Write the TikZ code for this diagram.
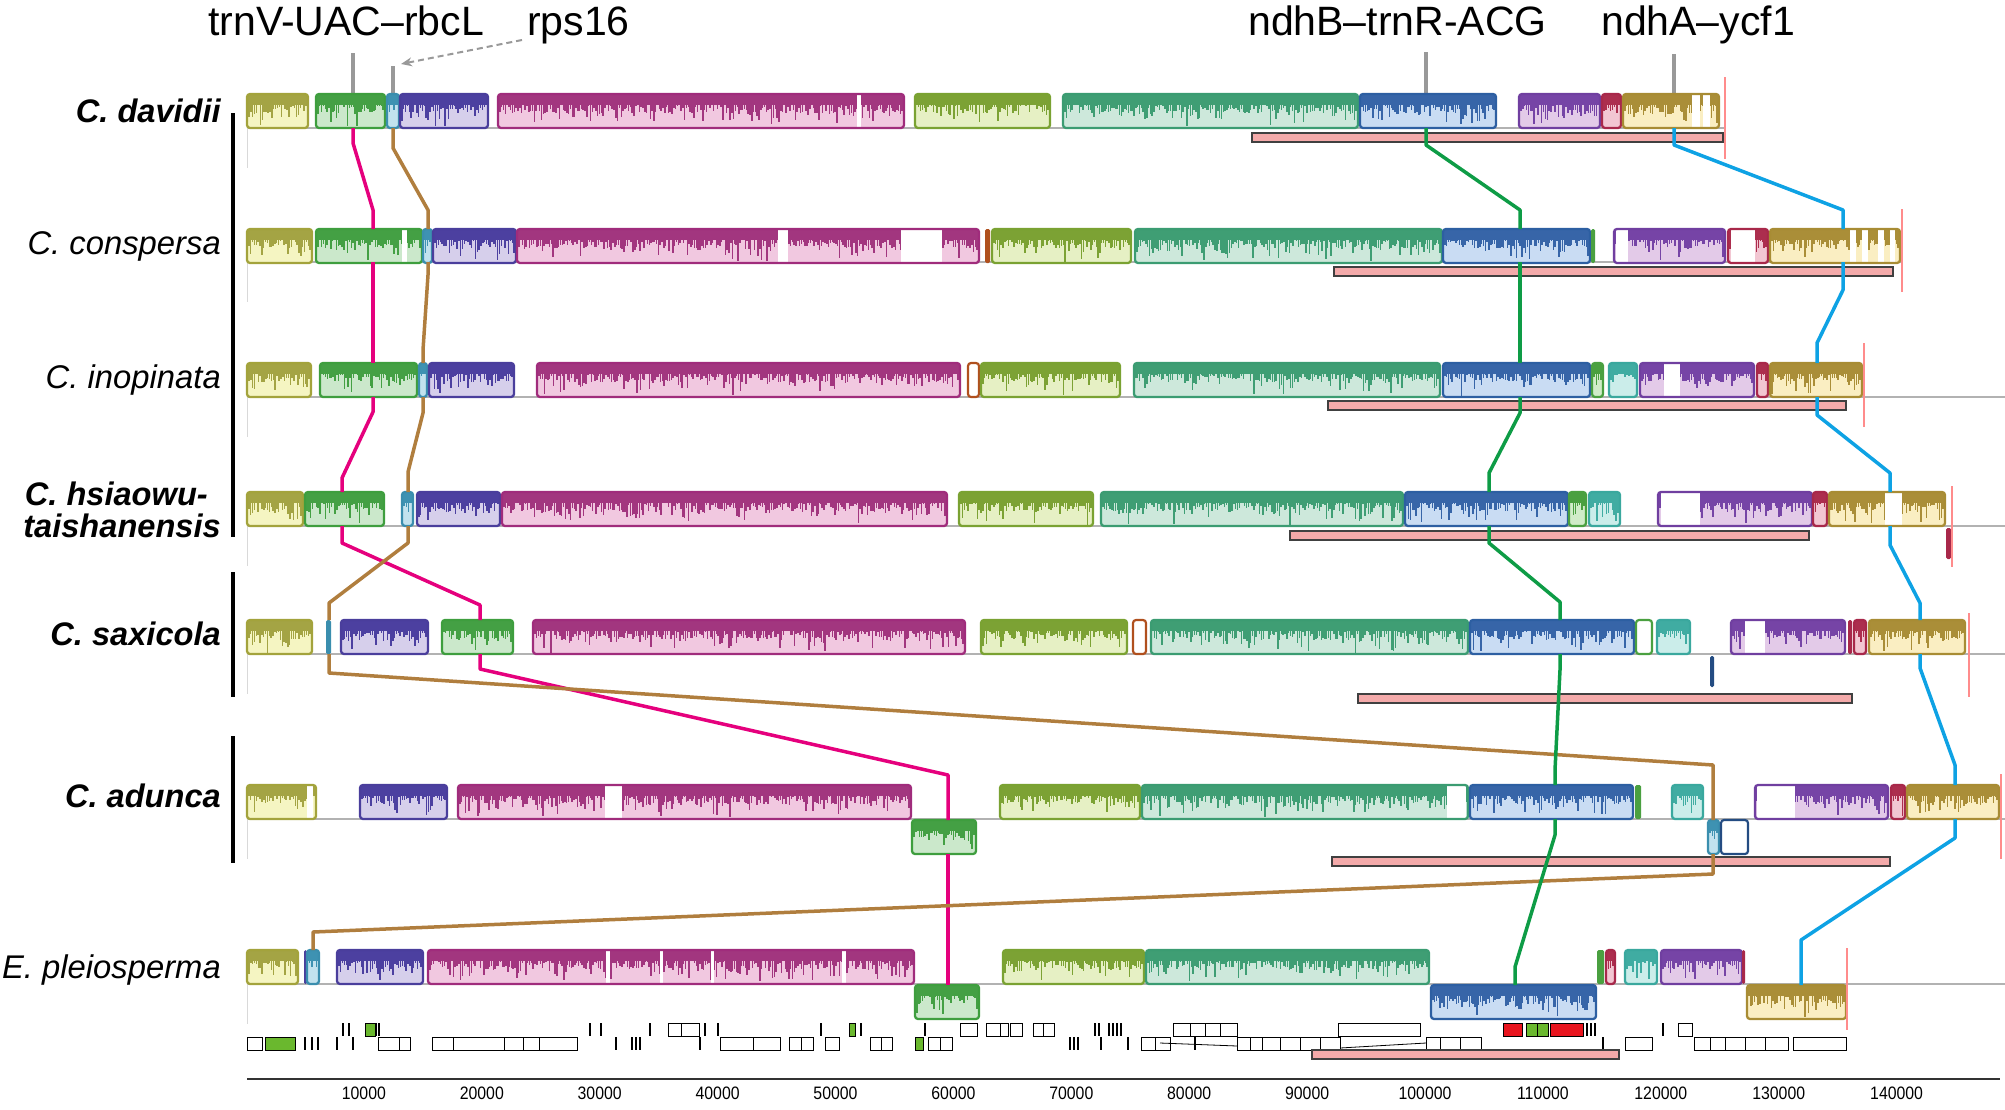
\documentclass[tikz,border=0pt]{standalone}
\usepackage{fontspec}
\setmainfont{Liberation Sans}
\usetikzlibrary{arrows.meta,calc}
\definecolor{yelB}{HTML}{A3A33C}\definecolor{yelD}{HTML}{A4A444}\definecolor{yelL}{HTML}{F5F5C2}
\definecolor{grnB}{HTML}{3E9E3E}\definecolor{grnD}{HTML}{44A044}\definecolor{grnL}{HTML}{CBE8CB}
\definecolor{teaB}{HTML}{3A8EAE}\definecolor{teaD}{HTML}{3E92B2}\definecolor{teaL}{HTML}{C2E2EE}
\definecolor{indB}{HTML}{4A3E9C}\definecolor{indD}{HTML}{4C40A0}\definecolor{indL}{HTML}{D6CFEB}
\definecolor{magB}{HTML}{A02C7C}\definecolor{magD}{HTML}{A2367F}\definecolor{magL}{HTML}{F1C8E0}
\definecolor{oliB}{HTML}{7AA232}\definecolor{oliD}{HTML}{7CA234}\definecolor{oliL}{HTML}{E6F0C4}
\definecolor{seaB}{HTML}{3B9C72}\definecolor{seaD}{HTML}{3F9E74}\definecolor{seaL}{HTML}{CDE8DB}
\definecolor{bluB}{HTML}{2D5FA2}\definecolor{bluD}{HTML}{3765A8}\definecolor{bluL}{HTML}{C9DCF3}
\definecolor{purB}{HTML}{703FA0}\definecolor{purD}{HTML}{7644A6}\definecolor{purL}{HTML}{E3CAE8}
\definecolor{criB}{HTML}{A8284A}\definecolor{criD}{HTML}{AC2E4E}\definecolor{criL}{HTML}{F2C6D2}
\definecolor{golB}{HTML}{A88C34}\definecolor{golD}{HTML}{AA8E38}\definecolor{golL}{HTML}{FAEEC2}
\definecolor{aquB}{HTML}{3AA89E}\definecolor{aquD}{HTML}{40ACA2}\definecolor{aquL}{HTML}{CBEDEA}
\definecolor{sgrB}{HTML}{4AA040}\definecolor{sgrD}{HTML}{4AA040}\definecolor{sgrL}{HTML}{D0ECC8}
\definecolor{oraB}{HTML}{B0501E}
\definecolor{pinkc}{HTML}{E5007D}\definecolor{brownc}{HTML}{B07E3E}
\definecolor{greenc}{HTML}{0E9C46}\definecolor{bluec}{HTML}{0EA2E4}
\definecolor{salmon}{HTML}{F4AAAA}\definecolor{annG}{HTML}{6AB82E}\definecolor{annR}{HTML}{E8141E}
\definecolor{tickgray}{HTML}{999999}
% LCB block: x1 x2 ytop colour gaps
\newcommand\lcb[5]{%
 \pgfmathtruncatemacro\ns{max(2,(#2-#1)/1.8)}%
 \begin{scope}
  \clip[rounded corners=3pt] (#1,#3) rectangle (#2,#3+34);
  \fill[#4L] (#1,#3) rectangle (#2,#3+34);
  \fill[#4D] (#1,#3) rectangle (#2,#3+11);
  \begin{scope}[shift={(0,#3)}]
   \draw[#4D,line width=1.5pt] plot[ycomb,domain=#1:#2,samples=\ns] (\x,{10+9*rnd+15*rnd^5});
  \end{scope}
  \foreach \ga/\gb in {#5} {\fill[white] (\ga,#3) rectangle (\gb,#3+34);}
 \end{scope}
 \draw[#4B,line width=2.3pt,rounded corners=3pt] (#1,#3) rectangle (#2,#3+34);
}
\newcommand\thinb[4]{\fill[#4B,rounded corners=1.5pt] (#1,#3) rectangle (#2,#3+34);}
\newcommand\hollow[4]{\draw[#4B,line width=2.2pt,rounded corners=3pt,fill=white] (#1,#3) rectangle (#2,#3+34);}
\newcommand\salm[3]{\draw[black!75,line width=1.3pt,fill=salmon] (#1,#3) rectangle (#2,#3+9);}
\newcommand\conn[5]{\draw[#1,line width=3.5pt,line join=round] (#2) -- ++(0,#4) -- ($(#3)-(0,#5)$) -- (#3);}
\begin{document}
\begin{tikzpicture}[x=1pt,y=-1pt,
  spname/.style={anchor=base east,inner sep=0pt,font=\fontsize{32.8}{37}\selectfont\itshape},
  spbold/.style={spname,font=\fontsize{32.6}{37}\selectfont\bfseries\itshape},
  toplab/.style={anchor=base west,inner sep=0pt,font=\fontsize{41}{48}\selectfont},
  gtick/.style={tickgray,line width=4.5pt},
  baseln/.style={black!30,line width=1.2pt},
  redln/.style={red!45,line width=1.3pt},
  axlab/.style={anchor=base,inner sep=0pt,font=\fontsize{18}{20}\selectfont},
  ann/.style={black,line width=0.8pt}]
\useasboundingbox (0,0) rectangle (2005,1109);
\pgfmathsetseed{4711}
% ---------- top labels
\node[toplab] (ltrnV) at (208,35) {trnV-UAC–rbcL};
\node[toplab] (lrps) at (527,35) {rps16};
\node[toplab] (lndhB) at (1248,35) {ndhB–trnR-ACG};
\node[toplab] (lndhA) at (1601,35) {ndhA–ycf1};
\draw[gtick] (353,53) -- (353,93);
\draw[gtick] (393,66) -- (393,93);
\draw[gtick] (1426,52) -- (1426,93);
\draw[gtick] (1674,54) -- (1674,93);
\coordinate (arrS) at (522,40);
\coordinate (arrE) at (401,64);
\draw[tickgray,dashed,dash pattern=on 6pt off 4pt,line width=2pt,-{Stealth[length=11pt,width=9pt]}] (arrS) -- (arrE);
% ---------- species labels and group bars
\node[spbold] (sp1) at (221,122) {C. davidii};
\node[spname] (sp2) at (221,254) {C. conspersa};
\node[spname] (sp3) at (221,388) {C. inopinata};
\node[spbold] (sp4a) at (208,505) {C. hsiaowu-};
\node[spbold] (sp4b) at (221,537) {taishanensis};
\node[spbold] (sp5) at (221,645) {C. saxicola};
\node[spbold] (sp6) at (221,807) {C. adunca};
\node[spname] (sp7) at (221,978) {E. pleiosperma};
\draw[black,line width=3.5pt] (233,113) -- (233,537);
\draw[black,line width=3.5pt] (233,572) -- (233,697);
\draw[black,line width=3.5pt] (233,736) -- (233,863);
% ---------- baselines and panel edges
\draw[baseln] (247,128) -- (1725,128);
\draw[baseln] (247,262) -- (1902,262);
\draw[baseln] (247,397) -- (2005,397);
\draw[baseln] (247,526) -- (2005,526);
\draw[baseln] (247,654) -- (2005,654);
\draw[baseln] (247,819) -- (2005,819);
\draw[baseln] (247,984) -- (2005,984);
\foreach \yy in {128,262,397,526,654,819,984} {\draw[black!15,line width=1pt] (247,\yy) -- (247,\yy+40);}
% ---------- row 1: C. davidii
\lcb{247}{308}{94}{yel}{0/0}
\lcb{316}{385}{94}{grn}{0/0}
\lcb{387}{399}{94}{tea}{0/0}
\lcb{400}{488}{94}{ind}{0/0}
\lcb{498}{904}{94}{mag}{857/861}
\lcb{915}{1050}{94}{oli}{0/0}
\lcb{1063}{1358}{94}{sea}{0/0}
\lcb{1360}{1496}{94}{blu}{0/0}
\lcb{1519}{1600}{94}{pur}{0/0}
\lcb{1602}{1621}{94}{cri}{0/0}
\lcb{1623}{1719}{94}{gol}{1692/1700,1703/1710}
\salm{1252}{1723}{133}
\draw[redln] (1725,77) -- (1725,159);
% ---------- row 2: C. conspersa
\lcb{247}{312}{229}{yel}{0/0}
\lcb{316}{422}{229}{grn}{402/407}
\lcb{423}{432}{229}{tea}{0/0}
\lcb{433}{516}{229}{ind}{0/0}
\lcb{517}{979}{229}{mag}{778/788,901/942}
\fill[oraB,rounded corners=1.5pt] (985,229) rectangle (990,263);
\lcb{992}{1131}{229}{oli}{0/0}
\lcb{1135}{1442}{229}{sea}{0/0}
\lcb{1443}{1590}{229}{blu}{0/0}
\thinb{1591}{1595}{229}{sgr}
\lcb{1614}{1725}{229}{pur}{1616/1628}
\lcb{1728}{1768}{229}{cri}{1731/1755}
\lcb{1770}{1900}{229}{gol}{1850/1856,1862/1868,1878/1884,1890/1895}
\salm{1334}{1893}{267}
\draw[redln] (1902,209) -- (1902,292);
% ---------- row 3: C. inopinata
\lcb{247}{311}{363}{yel}{0/0}
\lcb{320}{417}{363}{grn}{0/0}
\lcb{419}{427}{363}{tea}{0/0}
\lcb{429}{514}{363}{ind}{0/0}
\lcb{537}{960}{363}{mag}{0/0}
\draw[oraB,line width=2.2pt,rounded corners=3pt,fill=white] (968,363) rectangle (979,397);
\lcb{981}{1120}{363}{oli}{0/0}
\lcb{1134}{1440}{363}{sea}{0/0}
\lcb{1443}{1590}{363}{blu}{0/0}
\lcb{1592}{1603}{363}{sgr}{0/0}
\lcb{1609}{1637}{363}{aqu}{0/0}
\lcb{1640}{1754}{363}{pur}{1664/1680}
\lcb{1757}{1768}{363}{cri}{0/0}
\lcb{1770}{1862}{363}{gol}{0/0}
\salm{1328}{1846}{401}
\draw[redln] (1864,343) -- (1864,427);
% ---------- row 4: C. hsiaowu-taishanensis
\lcb{247}{303}{492}{yel}{0/0}
\lcb{305}{384}{492}{grn}{0/0}
\lcb{402}{413}{492}{tea}{0/0}
\lcb{417}{500}{492}{ind}{0/0}
\lcb{502}{947}{492}{mag}{0/0}
\lcb{959}{1093}{492}{oli}{0/0}
\lcb{1101}{1403}{492}{sea}{0/0}
\lcb{1405}{1568}{492}{blu}{0/0}
\lcb{1569}{1586}{492}{sgr}{0/0}
\lcb{1589}{1620}{492}{aqu}{0/0}
\lcb{1658}{1812}{492}{pur}{1661/1700}
\lcb{1813}{1827}{492}{cri}{0/0}
\lcb{1829}{1945}{492}{gol}{1885/1902}
\fill[criB,rounded corners=1.5pt] (1946,528) rectangle (1951,559);
\salm{1290}{1809}{531}
\draw[redln] (1952,486) -- (1952,567);
% ---------- row 5: C. saxicola
\lcb{247}{312}{620}{yel}{0/0}
\thinb{326}{331}{620}{tea}
\lcb{341}{428}{620}{ind}{0/0}
\lcb{442}{513}{620}{grn}{0/0}
\lcb{533}{965}{620}{mag}{0/0}
\lcb{981}{1127}{620}{oli}{0/0}
\draw[oraB,line width=2.2pt,rounded corners=3pt,fill=white] (1133,620) rectangle (1146,654);
\lcb{1151}{1468}{620}{sea}{0/0}
\lcb{1470}{1634}{620}{blu}{0/0}
\hollow{1636}{1652}{620}{sgr}
\lcb{1657}{1690}{620}{aqu}{0/0}
\lcb{1731}{1845}{620}{pur}{1745/1765}
\thinb{1848}{1852}{620}{cri}
\lcb{1854}{1866}{620}{cri}{0/0}
\lcb{1869}{1965}{620}{gol}{0/0}
\fill[bluB!80!black,rounded corners=1.5pt] (1710,656) rectangle (1714,687);
\salm{1358}{1852}{694}
\draw[redln] (1969,613) -- (1969,697);
% ---------- row 6: C. adunca
\lcb{247}{316}{785}{yel}{307/313}
\lcb{360}{447}{785}{ind}{0/0}
\lcb{458}{911}{785}{mag}{605/622}
\lcb{912}{976}{820}{grn}{0/0}
\lcb{1000}{1140}{785}{oli}{0/0}
\lcb{1142}{1468}{785}{sea}{1447/1466}
\lcb{1470}{1633}{785}{blu}{0/0}
\thinb{1635}{1641}{785}{sgr}
\lcb{1672}{1703}{785}{aqu}{0/0}
\lcb{1708}{1719}{820}{tea}{0/0}
\draw[bluB!80!black,line width=2.2pt,rounded corners=3pt,fill=white] (1721,820) rectangle (1748,854);
\lcb{1755}{1888}{785}{pur}{1757/1795}
\lcb{1891}{1905}{785}{cri}{0/0}
\lcb{1907}{1999}{785}{gol}{0/0}
\salm{1332}{1890}{857}
\draw[redln] (2001,774) -- (2001,859);
% ---------- row 7: E. pleiosperma
\lcb{247}{298}{950}{yel}{0/0}
\thinb{304}{307}{950}{ind}
\lcb{307}{319}{950}{tea}{0/0}
\lcb{337}{423}{950}{ind}{0/0}
\lcb{428}{914}{950}{mag}{606/610,660/663,711/714,842/846}
\lcb{915}{979}{985}{grn}{0/0}
\lcb{1003}{1144}{950}{oli}{0/0}
\lcb{1146}{1429}{950}{sea}{0/0}
\lcb{1431}{1596}{985}{blu}{0/0}
\thinb{1597}{1604}{950}{sgr}
\lcb{1606}{1615}{950}{cri}{0/0}
\lcb{1625}{1657}{950}{aqu}{0/0}
\lcb{1661}{1742}{950}{pur}{0/0}
\thinb{1742}{1745}{950}{cri}
\lcb{1747}{1846}{985}{gol}{0/0}
\draw[redln] (1847,948) -- (1847,1030);
% ---------- gene annotation
\foreach \a in {343,349,376,379,590,601,650,705,718,821,861,925,1095,1099,1109,1113,1117,1121,1583,1587,1591,1595,1663}
  {\fill[black] (\a-1,1023) rectangle (\a+1,1036);}
\foreach \a/\b in {668/681,681/699,960/977,986/1000,1000/1008,1010/1022,1033/1043,1043/1054,1173/1190,1190/1205,1205/1220,1220/1237,1338/1420,1678/1692}
  {\draw[ann,fill=white] (\a,1023) rectangle (\b,1036);}
\foreach \a/\b in {365/375,849/855,1526/1537,1537/1548}
  {\draw[ann,fill=annG] (\a,1023) rectangle (\b,1036);}
\foreach \a/\b in {1503/1522,1550/1583}
  {\draw[ann,fill=annR] (\a,1023) rectangle (\b,1036);}
\foreach \a in {305,312,318,337,353,616,632,636,640,700,1070,1074,1078,1101,1128,1195,1603}
  {\fill[black] (\a-1,1037) rectangle (\a+1,1050);}
\foreach \a/\b in {247/262,378/399,399/410,432/453,453/504,504/523,523/539,539/577,720/753,753/780,789/801,801/813,825/839,870/881,881/892,928/940,940/952,1141/1155,1155/1170,1237/1250,1250/1262,1262/1280,1280/1300,1300/1320,1320/1340,1426/1440,1440/1460,1460/1481,1625/1652,1694/1710,1710/1725,1725/1745,1745/1765,1765/1788,1793/1846}
  {\draw[ann,fill=white] (\a,1037) rectangle (\b,1050);}
\foreach \a/\b in {265/295,915/923}
  {\draw[ann,fill=annG] (\a,1037) rectangle (\b,1050);}
\draw[ann] (1160,1043) -- (1237,1046);
\draw[ann] (1340,1048) -- (1426,1043);
\salm{1312}{1619}{1050}
% ---------- axis
\draw[black!80,line width=1.5pt] (247,1079) -- (2000,1079);
\foreach \k in {1,...,14} {\node[axlab] (ax\k) at (246+117.9*\k,1099) {\scalebox{0.88}[1]{\k0000}};}
% ---------- connectors
\coordinate (P0) at (353,128); \coordinate (P1t) at (373,229); \coordinate (P1b) at (373,262);
\coordinate (P2t) at (373,363); \coordinate (P2b) at (373,397); \coordinate (P3t) at (342,492);
\coordinate (P3b) at (342,526); \coordinate (P4t) at (480,620); \coordinate (P4b) at (480,654);
\coordinate (P5t) at (948,820); \coordinate (P5b) at (948,854); \coordinate (P6t) at (948,985);
\coordinate (B0) at (393,128); \coordinate (B1t) at (428,229); \coordinate (B1b) at (428,262);
\coordinate (B2t) at (423,363); \coordinate (B2b) at (423,397); \coordinate (B3t) at (408,492);
\coordinate (B3b) at (408,526); \coordinate (B4t) at (329,620); \coordinate (B4b) at (329,654);
\coordinate (B5t) at (1713,820); \coordinate (B5b) at (1713,854); \coordinate (B6t) at (313,950);
\coordinate (G0) at (1426,128); \coordinate (G1t) at (1520,229); \coordinate (G1b) at (1520,262);
\coordinate (G2t) at (1520,363); \coordinate (G2b) at (1520,397); \coordinate (G3t) at (1489,492);
\coordinate (G3b) at (1489,526); \coordinate (G4t) at (1560,620); \coordinate (G4b) at (1560,654);
\coordinate (G5t) at (1555,785); \coordinate (G5b) at (1555,819); \coordinate (G6t) at (1515,985);
\coordinate (C0) at (1674,128); \coordinate (C1t) at (1843,229); \coordinate (C1b) at (1843,262);
\coordinate (C2t) at (1817,363); \coordinate (C2b) at (1817,397); \coordinate (C3t) at (1890,492);
\coordinate (C3b) at (1890,526); \coordinate (C4t) at (1920,620); \coordinate (C4b) at (1920,654);
\coordinate (C5t) at (1955,785); \coordinate (C5b) at (1955,819); \coordinate (C6t) at (1801,985);
\conn{pinkc}{P0}{P1t}{15}{19}
\draw[pinkc,line width=3.5pt] (P1b) -- (P2t);
\conn{pinkc}{P2b}{P3t}{15}{14}
\conn{pinkc}{P3b}{P4t}{17}{15}
\conn{pinkc}{P4b}{P5t}{15}{45}
\draw[pinkc,line width=3.5pt] (P5b) -- (P6t);
\conn{brownc}{B0}{B1t}{20}{19}
\conn{brownc}{B1b}{B2t}{13}{13}
\conn{brownc}{B2b}{B3t}{16}{20}
\conn{brownc}{B3b}{B4t}{17}{17}
\conn{brownc}{B4b}{B5t}{19}{55}
\conn{brownc}{B5b}{B6t}{20}{18}
\conn{greenc}{G0}{G1t}{17}{19}
\draw[greenc,line width=3.5pt] (G1b) -- (G2t);
\conn{greenc}{G2b}{G3t}{16}{19}
\conn{greenc}{G3b}{G4t}{17}{18}
\conn{greenc}{G4b}{G5t}{16}{15}
\conn{greenc}{G5b}{G6t}{16}{18}
\conn{bluec}{C0}{C1t}{17}{19}
\conn{bluec}{C1b}{C2t}{28}{20}
\conn{bluec}{C2b}{C3t}{18}{19}
\conn{bluec}{C3b}{C4t}{19}{17}
\conn{bluec}{C4b}{C5t}{14}{20}
\conn{bluec}{C5b}{C6t}{19}{45}
\end{tikzpicture}
\end{document}
